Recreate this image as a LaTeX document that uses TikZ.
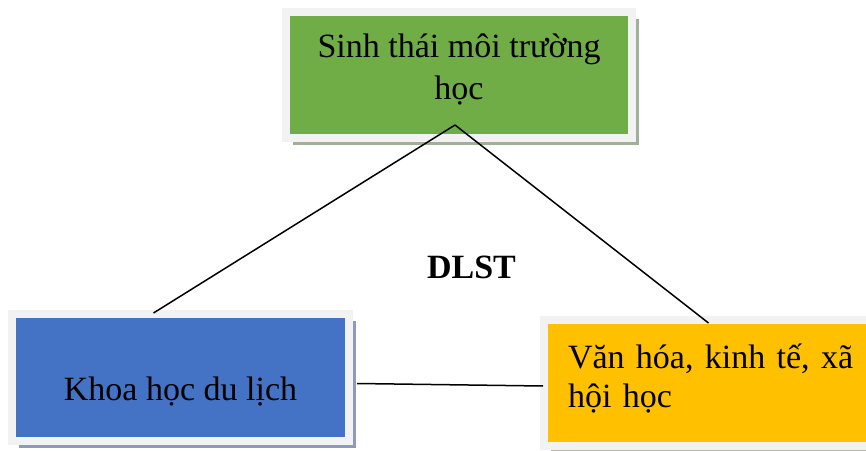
\documentclass[tikz,border=0pt]{standalone}
\usepackage{fontspec}
\setmainfont{Liberation Serif}
\usetikzlibrary{shadows}
\definecolor{ecoGreen}{RGB}{112,173,71}
\definecolor{tourBlue}{RGB}{68,114,196}
\definecolor{cultYellow}{RGB}{255,192,0}
\definecolor{frameGray}{RGB}{242,242,242}
\definecolor{greenShade}{RGB}{160,176,150}
\definecolor{blueShade}{RGB}{142,154,184}
\definecolor{yellowShade}{RGB}{190,180,150}

\begin{document}
\begin{tikzpicture}[
  x=1pt, y=1pt,
  font=\fontsize{34}{40}\selectfont,
  box/.style={draw=frameGray, line width=8pt, inner sep=0pt,
              minimum height=126pt},
  shade/.style={drop shadow={shadow xshift=7pt, shadow yshift=-7pt,
              fill=#1, opacity=1}},
  link/.style={line width=1.5pt, black}
]
\clip (0,0) rectangle (866,450);
% the three fields
\node[box, fill=ecoGreen, shade=greenShade, minimum width=346pt,
      align=center, text height=50pt, text depth=0pt,
      font=\fontsize{34}{42}\selectfont] (eco) at (459,375)
  {Sinh thái môi trường\\học};
\node[box, fill=tourBlue, shade=blueShade, minimum width=337pt,
      minimum height=127pt, text height=45pt, text depth=0pt] (tour) at (180.5,72.5)
  {Khoa học du lịch};
\node[box, fill=cultYellow, shade=yellowShade, minimum width=337pt,
      text width=289pt, align=left, text height=10pt, text depth=40pt,
      font=\fontsize{34}{39}\selectfont] (cult) at (712.5,67)
  {Văn hóa, kinh tế, xã\\hội học};
\node[font=\fontsize{34}{40}\selectfont\bfseries, anchor=base] (dlst) at (471.5,172) {DLST};
% triangle
\coordinate (apex) at ([shift={(-4,17)}]eco.south);
\draw[link] (apex) -- ([shift={(-27,-3)}]tour.north);
\draw[link] (apex) -- ([shift={(-4,-7)}]cult.north);
\draw[link] ([shift={(4,-6)}]tour.east) -- ([shift={(3,-3)}]cult.west);
\end{tikzpicture}
\end{document}
